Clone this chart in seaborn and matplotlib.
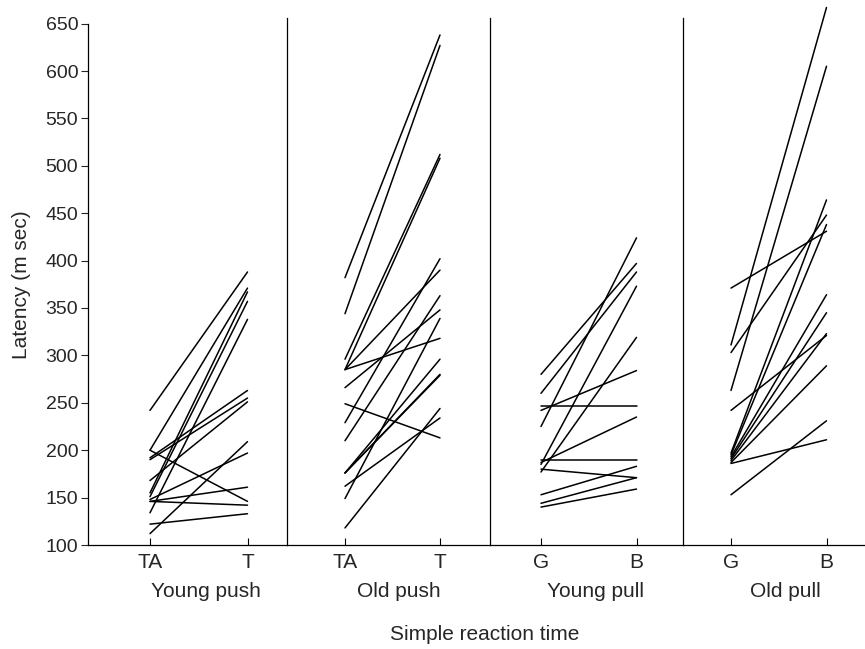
import numpy as np
import pandas as pd
import matplotlib
matplotlib.use("Agg")
import matplotlib.pyplot as plt
import seaborn as sns

# ---------------- data ----------------
groups = ["Young push", "Old push", "Young pull", "Old pull"]
cond_labels = [("TA", "T"), ("TA", "T"), ("G", "B"), ("G", "B")]

young_push_first = [242, 200, 200, 192, 190, 168, 155, 151, 148, 146, 146, 134, 122, 112]
young_push_second = [388, 146, 371, 263, 255, 251, 367, 357, 197, 161, 142, 338, 133, 209]

old_push_first = [382, 344, 296, 285, 285, 285, 266, 249, 229, 210, 176, 176, 176, 162, 149, 118]
old_push_second = [638, 627, 512, 508, 390, 318, 348, 213, 402, 363, 296, 280, 279, 234, 339, 244]

young_pull_first = [280, 260, 247, 242, 225, 190, 187, 185, 180, 177, 153, 144, 140]
young_pull_second = [397, 388, 247, 284, 424, 190, 235, 373, 171, 319, 183, 171, 159]

old_pull_first = [371, 311, 303, 263, 242, 197, 195, 193, 191, 189, 187, 186, 153]
old_pull_second = [431, 667, 448, 605, 321, 464, 438, 364, 345, 323, 289, 211, 231]

firsts = [young_push_first, old_push_first, young_pull_first, old_pull_first]
seconds = [young_push_second, old_push_second, young_pull_second, old_pull_second]

yticks = [100, 150, 200, 250, 300, 350, 400, 450, 500, 550, 600, 650]

# ---------------- layout (pixels) ----------------
W, H = 865, 649
AX_BOTTOM_PX, AX_TOP_PX = 545, 18
PX_PER_UNIT = 0.948
# (left edge, right edge, first tick, second tick)
panel_px = [(88, 286.5, 150, 247.5),
            (286.5, 490, 345, 440),
            (490, 682.5, 541, 636.5),
            (682.5, 865, 731, 826.5)]
FS = 15

sns.set_style("ticks")
plt.rcParams['font.family'] = ['Liberation Sans', 'DejaVu Sans']

fig = plt.figure(figsize=(W / 100, H / 100), dpi=100)
ymax = 100 + (AX_BOTTOM_PX - AX_TOP_PX) / PX_PER_UNIT

for i, (L, R, a, b) in enumerate(panel_px):
    ax = fig.add_axes([L / W, 1 - AX_BOTTOM_PX / H, (R - L) / W,
                       (AX_BOTTOM_PX - AX_TOP_PX) / H])
    n = len(firsts[i])
    df = pd.DataFrame({
        "subject": list(range(n)) * 2,
        "cond": [0] * n + [1] * n,
        "latency": list(firsts[i]) + list(seconds[i]),
    })
    sns.lineplot(data=df, x="cond", y="latency", units="subject",
                 estimator=None, color="black", linewidth=1.1, ax=ax,
                 legend=False)
    for ln in ax.lines:
        ln.set_clip_on(False)
    unit = b - a
    ax.set_xlim((L - a) / unit, 1 + (R - b) / unit)
    ax.set_ylim(100, ymax)
    ax.set_xticks([0, 1])
    ax.set_xticklabels(cond_labels[i], fontsize=FS)
    ax.tick_params(axis="x", direction="in", length=5, width=0.8, pad=6,
                   color="black")
    ax.set_xlabel("")
    ax.set_ylabel("")
    ax.spines["top"].set_visible(False)
    ax.spines["right"].set_visible(False)
    for s in ax.spines.values():
        s.set_color("black")
        s.set_linewidth(0.9)
    if i == 0:
        ax.set_yticks(yticks)
        ax.set_yticklabels([str(t) for t in yticks], fontsize=14)
        ax.tick_params(axis="y", direction="out", length=5, width=0.8, pad=2)
        ax.spines["left"].set_bounds(100, 650)
    else:
        ax.set_yticks([])
        ax.tick_params(axis="y", length=0)
    ax.text(0.57, -0.089, groups[i], transform=ax.get_xaxis_transform(),
            ha="center", va="center", fontsize=FS)
    ax.set_facecolor("none")

fig.text(485 / W, 1 - 634 / H, "Simple reaction time", ha="center",
         va="center", fontsize=FS)
fig.text(22 / W, 1 - 285 / H, "Latency (m sec)", ha="center", va="center",
         rotation=90, fontsize=FS)

fig.savefig("out.png", dpi=100)
